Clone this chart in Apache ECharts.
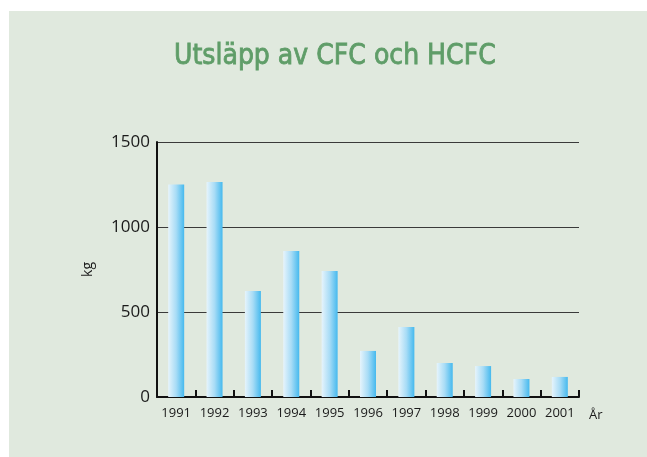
<!DOCTYPE html>
<html>
<head>
<meta charset="utf-8">
<script src="https://cdn.jsdelivr.net/npm/echarts@6/dist/echarts.min.js"></script>
<style>
html,body{margin:0;padding:0;background:#ffffff;}
#wrap{position:absolute;left:9px;top:11px;width:638px;height:446px;background:#e0e9de;}
#c{position:absolute;left:0;top:0;width:647px;height:457px;}
</style>
</head>
<body>
<div id="wrap"></div>
<div id="c"></div>
<script>
const categories = ['1991','1992','1993','1994','1995','1996','1997','1998','1999','2000','2001'];
const values = [1250, 1265, 624, 859, 741, 271, 412, 200, 182, 106, 118];
const yTicks = [0, 500, 1000, 1500];

const chart = echarts.init(document.getElementById('c'), null, {renderer:'canvas'});
chart.setOption({
  backgroundColor: 'transparent',
  animation: false,
  title: {
    text: 'Utsläpp av CFC och HCFC',
    left: 169,
    top: 38,
    textStyle: {
      fontFamily: '"DejaVu Sans Condensed", "DejaVu Sans", sans-serif',
      fontWeight: 'normal',
      fontSize: 28,
      color: '#5f9d68',
      textBorderColor: '#5f9d68',
      textBorderWidth: 0.8
    }
  },
  grid: {left: 157, right: 68, top: 142, bottom: 60, containLabel: false},
  xAxis: {
    type: 'category',
    data: categories,
    boundaryGap: true,
    name: 'År',
    nameLocation: 'end',
    nameGap: 10,
    nameTextStyle: {
      fontFamily: '"Open Sans", "Noto Sans", sans-serif',
      fontSize: 13, color: '#1a1a1a',
      verticalAlign: 'top', padding: [12, 0, 0, 0]
    },
    axisLine: {show: true, lineStyle: {color: '#111', width: 2}},
    axisTick: {show: true, interval: 0, inside: true, length: 7, lineStyle: {color: '#111', width: 2}},
    axisLabel: {
      interval: 0,
      margin: 10,
      fontFamily: '"Open Sans", "Noto Sans", sans-serif',
      fontSize: 13, color: '#1a1a1a'
    },
    splitLine: {show: false}
  },
  yAxis: {
    type: 'value',
    min: 0, max: 1500, interval: 500,
    name: 'kg',
    nameLocation: 'middle',
    nameGap: 62,
    nameRotate: 90,
    nameTextStyle: {
      fontFamily: '"Open Sans", "Noto Sans", sans-serif',
      fontSize: 14, color: '#1a1a1a'
    },
    axisLine: {show: true, lineStyle: {color: '#111', width: 2}},
    axisTick: {show: false},
    axisLabel: {
      margin: 7,
      fontFamily: '"Open Sans", "Noto Sans", sans-serif',
      fontSize: 17, color: '#1a1a1a',
      formatter: function (v) { return yTicks.indexOf(v) >= 0 ? String(v) : ''; }
    },
    splitLine: {show: true, lineStyle: {color: '#3a3a3a', width: 1}}
  },
  series: [{
    type: 'bar',
    data: values,
    barWidth: 16,
    itemStyle: {
      color: new echarts.graphic.LinearGradient(0, 0, 1, 0, [
        {offset: 0, color: '#e6f4fc'},
        {offset: 0.5, color: '#a8dcf6'},
        {offset: 1, color: '#45b9ee'}
      ])
    }
  }]
});
</script>
</body>
</html>
